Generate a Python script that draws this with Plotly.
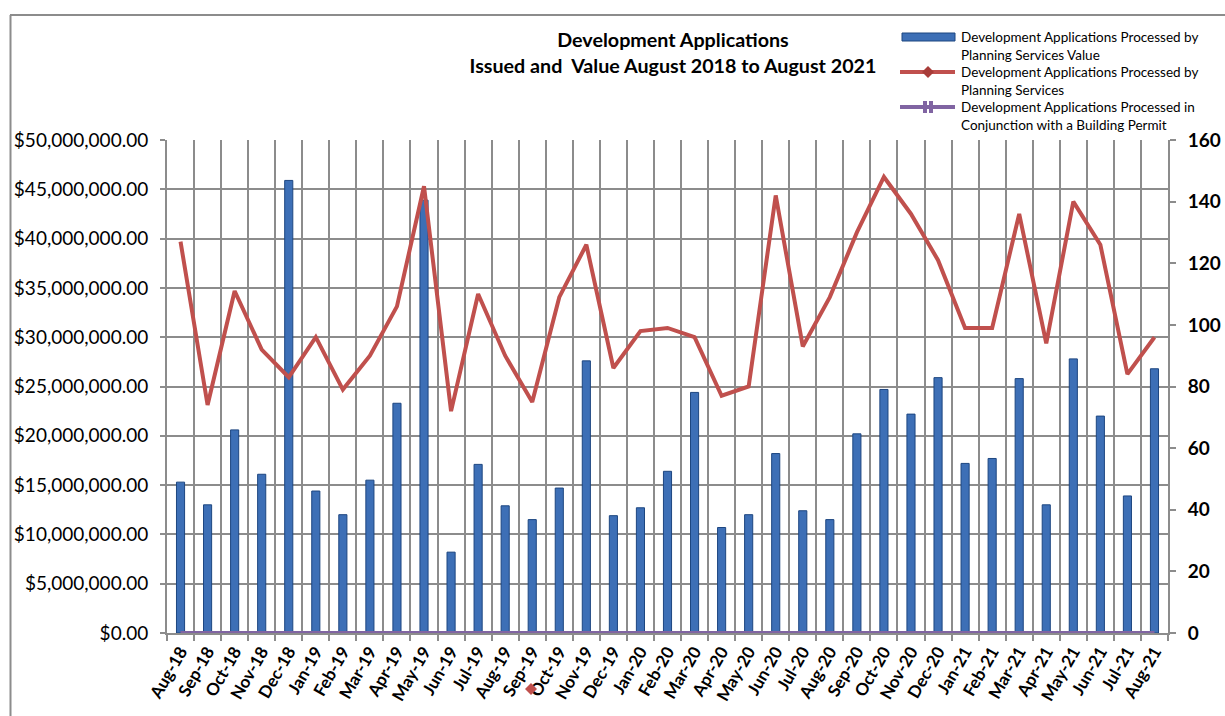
import plotly.graph_objects as go

months = ["Aug-18","Sep-18","Oct-18","Nov-18","Dec-18","Jan-19","Feb-19","Mar-19","Apr-19","May-19",
          "Jun-19","Jul-19","Aug-19","Sep-19","Oct-19","Nov-19","Dec-19","Jan-20","Feb-20","Mar-20",
          "Apr-20","May-20","Jun-20","Jul-20","Aug-20","Sep-20","Oct-20","Nov-20","Dec-20","Jan-21",
          "Feb-21","Mar-21","Apr-21","May-21","Jun-21","Jul-21","Aug-21"]

value_millions = [15.3, 13.0, 20.6, 16.1, 45.9, 14.4, 12.0, 15.5, 23.3, 43.9,
                  8.2, 17.1, 12.9, 11.5, 14.7, 27.6, 11.9, 12.7, 16.4, 24.4,
                  10.7, 12.0, 18.2, 12.4, 11.5, 20.2, 24.7, 22.2, 25.9, 17.2,
                  17.7, 25.8, 13.0, 27.8, 22.0, 13.9, 26.8]
values = [v * 1_000_000 for v in value_millions]

planning_counts = [127, 74, 111, 92, 83, 96, 79, 90, 106, 145,
                   72, 110, 90, 75, 109, 126, 86, 98, 99, 96,
                   77, 80, 142, 93, 109, 130, 148, 136, 121, 99,
                   99, 136, 94, 140, 126, 84, 96]

building_permit_counts = [0] * len(months)

legend_labels = [
    ["Development Applications Processed by", "Planning Services Value"],
    ["Development Applications Processed by", "Planning Services"],
    ["Development Applications Processed in", "Conjunction with a Building Permit"],
]

FONT = "Lato"
W, H = 1225, 716
L, R, T, B = 167, 1168, 140, 633

BLUE, BLUE_EDGE, RED, PURPLE = "#3d6fb6", "#1d4680", "#c0504d", "#8064a2"

def px(x):
    return (x - L) / (R - L)

def py(y):
    return (B - y) / (B - T)

fig = go.Figure()
fig.add_trace(go.Bar(
    x=months, y=values, name=" ".join(legend_labels[0]),
    marker=dict(color=BLUE, line=dict(color=BLUE_EDGE, width=1)),
    width=0.3, yaxis="y",
))
fig.add_trace(go.Scatter(
    x=months, y=planning_counts, name=" ".join(legend_labels[1]),
    mode="lines", line=dict(color=RED, width=4), yaxis="y2", cliponaxis=False,
))
fig.add_trace(go.Scatter(
    x=months, y=building_permit_counts, name=" ".join(legend_labels[2]),
    mode="lines", line=dict(color=PURPLE, width=4), yaxis="y2", cliponaxis=False,
))

grid = "#8c8c8c"
fig.update_layout(
    width=W, height=H,
    margin=dict(l=L, r=W - R, t=T, b=H - B, autoexpand=False),
    paper_bgcolor="white", plot_bgcolor="white",
    font=dict(family=FONT, color="black"),
    title=dict(
        text="<b>Development Applications<br>Issued and  Value August 2018 to August 2021</b>",
        xref="container", yref="container",
        x=673 / W, xanchor="center", y=1 - 47 / H, yanchor="middle",
        font=dict(size=19.7, family=FONT),
    ),
    showlegend=False,
    xaxis=dict(
        type="category", tickson="boundaries", showgrid=True, gridcolor=grid, gridwidth=2,
        ticks="outside", ticklen=6, tickcolor=grid, tickwidth=2,
        tickangle=-60, tickfont=dict(size=17, family=FONT, weight="bold"),
        showline=True, linecolor=grid, linewidth=2,
    ),
    yaxis=dict(
        range=[0, 50_000_000], dtick=5_000_000, tickprefix="$", tickformat=",.2f",
        showgrid=True, gridcolor=grid, gridwidth=2, zeroline=False,
        ticks="outside", ticklen=5, tickcolor=grid, tickwidth=2,
        tickfont=dict(size=19, family=FONT), ticklabelstandoff=8,
        showline=True, linecolor=grid, linewidth=2,
    ),
    yaxis2=dict(
        range=[0, 160], dtick=20, overlaying="y", side="right",
        showgrid=False, zeroline=False,
        ticks="outside", ticklen=6, tickcolor=grid, tickwidth=2,
        tickfont=dict(size=19, family=FONT, weight="bold"), ticklabelstandoff=8,
        showline=True, linecolor=grid, linewidth=2,
    ),
)

# legend (drawn manually to match the compact line spacing)
line_ys = [[37, 54.6], [72.2, 89.8], [107.4, 125]]
for labels, ys in zip(legend_labels, line_ys):
    for text, y in zip(labels, ys):
        fig.add_annotation(text=text, xref="paper", yref="paper", x=px(959), y=py(y),
                           xanchor="left", yanchor="middle", showarrow=False,
                           font=dict(size=13.5, family=FONT, color="black"))

fig.add_shape(type="rect", xref="paper", yref="paper",
              x0=px(902), x1=px(955), y0=py(33), y1=py(41),
              fillcolor=BLUE, line=dict(color=BLUE_EDGE, width=1))
fig.add_shape(type="line", xref="paper", yref="paper",
              x0=px(900), x1=px(955), y0=py(72), y1=py(72), line=dict(color=RED, width=4))
cx, cy, s = 928, 72, 6
fig.add_shape(type="path", xref="paper", yref="paper",
              path=f"M {px(cx)} {py(cy - s)} L {px(cx + s)} {py(cy)} L {px(cx)} {py(cy + s)} L {px(cx - s)} {py(cy)} Z",
              fillcolor="#a83c39", line=dict(width=0))
fig.add_shape(type="line", xref="paper", yref="paper",
              x0=px(900), x1=px(955), y0=py(107), y1=py(107), line=dict(color=PURPLE, width=4))
for dx in (-3, 3):
    fig.add_shape(type="line", xref="paper", yref="paper",
                  x0=px(928 + dx), x1=px(928 + dx), y0=py(101), y1=py(113),
                  line=dict(color=PURPLE, width=4))

# outer chart border (left and top)
fig.add_shape(type="line", xref="paper", yref="paper",
              x0=px(10.5), x1=px(10.5), y0=py(15), y1=py(716), line=dict(color=grid, width=2))
fig.add_shape(type="line", xref="paper", yref="paper",
              x0=px(10), x1=px(1225), y0=py(15), y1=py(15), line=dict(color=grid, width=2))

# stray diamond marker near the Sep-19 label
cx, cy, s = 531, 689, 6
fig.add_shape(type="path", xref="paper", yref="paper",
              path=f"M {px(cx)} {py(cy - s)} L {px(cx + s)} {py(cy)} L {px(cx)} {py(cy + s)} L {px(cx - s)} {py(cy)} Z",
              fillcolor=RED, line=dict(width=0))

fig.write_html("out.html", config={"displayModeBar": False},
               post_script="document.body.style.margin='0';document.body.style.padding='0';document.body.style.overflow='hidden';")
